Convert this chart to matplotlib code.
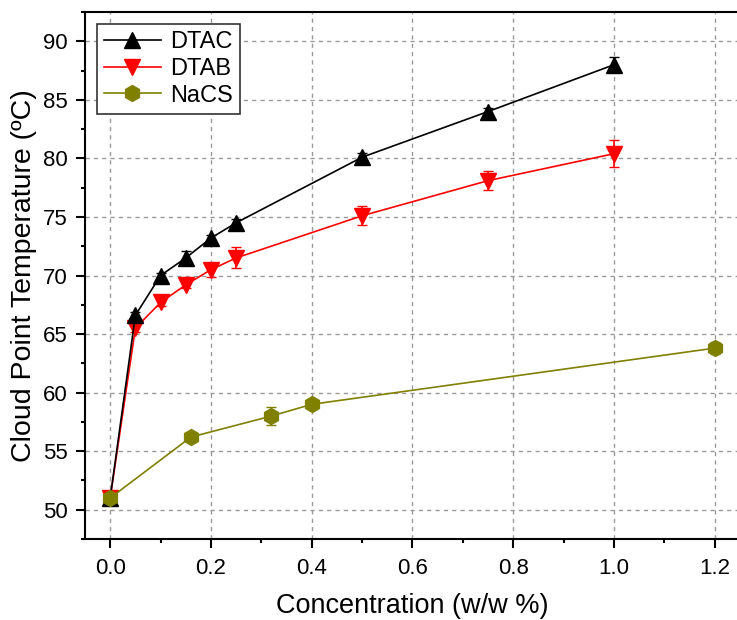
import matplotlib.pyplot as plt
from matplotlib.lines import Line2D
from matplotlib.ticker import MultipleLocator

plt.rcParams['font.family'] = ['Liberation Sans', 'DejaVu Sans']

# cloud point data
dtac_x = [0, 0.05, 0.1, 0.15, 0.2, 0.25, 0.5, 0.75, 1.0]
dtac_y = [51.0, 66.6, 70.0, 71.5, 73.2, 74.5, 80.1, 84.0, 88.0]
dtac_err = [0.2, 0.3, 0.2, 0.6, 0.3, 0.3, 0.4, 0.3, 0.65]

dtab_x = [0, 0.05, 0.1, 0.15, 0.2, 0.25, 0.5, 0.75, 1.0]
dtab_y = [51.0, 65.5, 67.7, 69.2, 70.5, 71.5, 75.1, 78.1, 80.4]
dtab_err = [0.2, 0.3, 0.3, 0.3, 0.6, 0.9, 0.8, 0.8, 1.15]

nacs_x = [0, 0.16, 0.32, 0.4, 1.2]
nacs_y = [51.0, 56.2, 58.0, 59.0, 63.8]
nacs_err = [0.2, 0.2, 0.8, 0.4, 0.5]

series = [
    ('DTAC', dtac_x, dtac_y, dtac_err, 'black', '^', 4),
    ('DTAB', dtab_x, dtab_y, dtab_err, '#ff0000', 'v', 3),
    ('NaCS', nacs_x, nacs_y, nacs_err, '#808000', 'h', 5),
]

fig = plt.figure(figsize=(7.37, 6.2), dpi=100)
ax = fig.add_axes([85 / 737, 81 / 620, 655 / 737, 527 / 620])

handles = []
for name, xs, ys, err, col, mk, z in series:
    ax.errorbar(xs, ys, yerr=err, color=col, marker=mk, markersize=11.5,
                lw=1.2, capsize=3.5, elinewidth=1.2, zorder=z)
    handles.append(Line2D([], [], color=col, marker=mk, markersize=11.5, lw=1.2, label=name))

ax.set_xlim(-0.05, 1.25)
ax.set_ylim(47.5, 92.5)
ax.xaxis.set_major_locator(MultipleLocator(0.2))
ax.xaxis.set_minor_locator(MultipleLocator(0.1))
ax.yaxis.set_major_locator(MultipleLocator(5))
ax.yaxis.set_minor_locator(MultipleLocator(2.5))
ax.xaxis.set_major_formatter(plt.FuncFormatter(lambda v, p: f'{v:.1f}'))

ax.tick_params(which='major', direction='out', length=6.5, width=1.5, labelsize=16)
ax.tick_params(which='minor', direction='out', length=3, width=1.5)
ax.tick_params(axis='x', which='major', pad=7)
ax.tick_params(axis='y', which='major', pad=6)
ax.grid(True, which='major', linestyle=(0, (3, 3)), color='#999999', lw=1)
ax.set_axisbelow(True)

for side in ['left', 'bottom', 'top', 'right']:
    ax.spines[side].set_linewidth(1.5)

ax.set_xlabel('Concentration (w/w %)', fontsize=19.5, labelpad=10)
ax.set_ylabel('Cloud Point Temperature (ºC)', fontsize=20.5, labelpad=4)

leg = ax.legend(handles=handles, loc='upper left', bbox_to_anchor=(0.018, 0.977),
                borderaxespad=0, fontsize=17, fancybox=False, framealpha=1,
                edgecolor='#333333', handlelength=2.4, borderpad=0.3,
                labelspacing=0.2, handletextpad=0.4)
leg.get_frame().set_linewidth(1.2)

fig.savefig('out.png', dpi=100)
